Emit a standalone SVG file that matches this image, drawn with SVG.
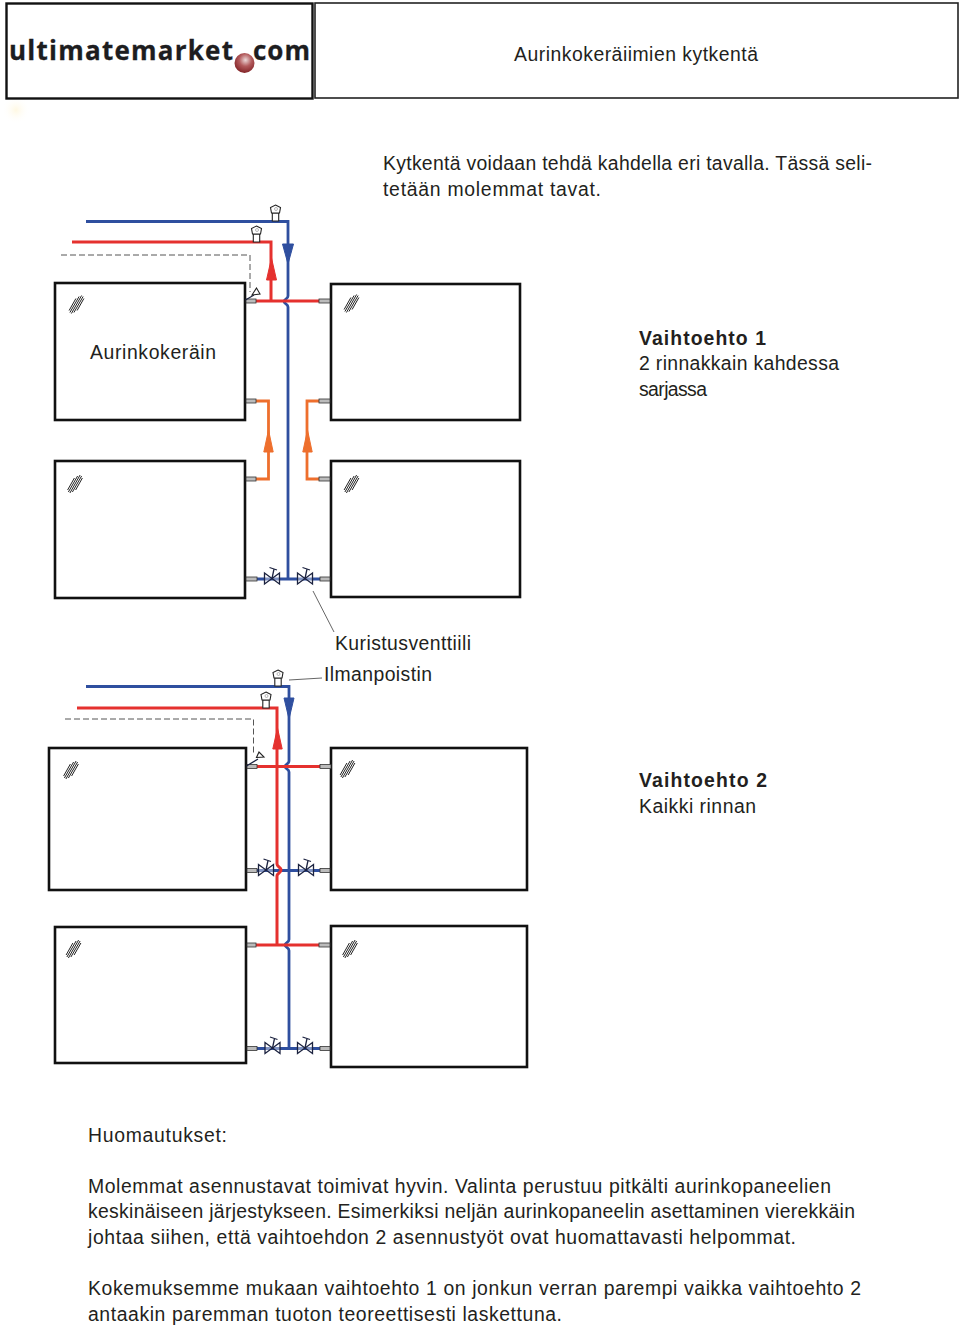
<svg xmlns="http://www.w3.org/2000/svg" xmlns:xlink="http://www.w3.org/1999/xlink" width="960" height="1327" viewBox="0 0 960 1327">
<style>
text{font-family:"Liberation Sans",Arial,sans-serif;font-size:19.4px;fill:#231f20}
.b{font-weight:bold}
.logo{font-family:"Open Sans","Liberation Sans",sans-serif;font-weight:bold;font-size:26px;fill:#1d1d1f;stroke:#1d1d1f;stroke-width:.3}
.panel{fill:#fff;stroke:#111;stroke-width:2.6}
.hdr{fill:#fff;stroke:#222;stroke-width:1.6}
.hdr2{fill:none;stroke:#111;stroke-width:2.400}
.blue{fill:none;stroke:#2f4f9f;stroke-width:2.8}
.red{fill:none;stroke:#e5312e;stroke-width:3}
.orange{fill:none;stroke:#ee6f2d;stroke-width:2.8}
.dash{fill:none;stroke:#555;stroke-width:1;stroke-dasharray:6 3}
.lead{fill:none;stroke:#666;stroke-width:1}
.stub{fill:#bbb;stroke:#333;stroke-width:.8}
.thin{fill:none;stroke:#1c2340;stroke-width:1.300}
.hatch{fill:none;stroke:#222;stroke-width:1}
.vent{fill:#fff;stroke:#222;stroke-width:1.100}
</style>
<defs>
<radialGradient id="ball" cx="0.55" cy="0.35" r="0.7"><stop offset="0" stop-color="#ecd8d8"/><stop offset="0.45" stop-color="#b25a5c"/><stop offset="1" stop-color="#7c1c20"/></radialGradient>
<radialGradient id="glow"><stop offset="0" stop-color="#fff8e2"/><stop offset="1" stop-color="#fff" stop-opacity="0"/></radialGradient>
<g id="hatch" class="hatch"><path d="M-7.400 6L-0.600 -6M-6.600 8L2.600 -8M-5.100 9L5.100 -9M-2.600 8L6.600 -8M0.600 6L7.400 -6"/></g>
<g id="vent"><path class="vent" d="M-3.200 8H3.200V16H-3.200Z"/><path class="vent" d="M0 0L5 2.500L4 8H-4L-5 2.500Z"/><circle cx="0.500" cy="4" r="1.500" fill="none" stroke="#888" stroke-width=".6"/></g>
<g id="valve" class="thin"><path d="M-7.500 -5.500L7.500 5.500V-5.500L-7.500 5.500Z" fill="#fff" fill-opacity=".4"/><path d="M0 0L2 -9.500M-2.500 -11L5 -8.500"/></g>
</defs>
<ellipse cx="16" cy="110" rx="14" ry="14" fill="url(#glow)"/>
<g id="header-logo">
<rect class="hdr2" x="6.500" y="3.500" width="306" height="95"/>
<text class="logo" x="9" y="59.500" textLength="224" lengthAdjust="spacing">ultimatemarket</text>
<text class="logo" x="253" y="59.500" textLength="57" lengthAdjust="spacing">com</text>
<circle cx="244.500" cy="63" r="10" fill="url(#ball)"/>
</g>
<g id="header-title">
<rect class="hdr" x="315" y="3" width="643" height="95"/>
<text x="514" y="61" textLength="244" lengthAdjust="spacing">Aurinkokeräiimien kytkentä</text>
</g>
<g id="intro">
<text x="383" y="170" textLength="489" lengthAdjust="spacing">Kytkentä voidaan tehdä kahdella eri tavalla. Tässä seli-</text>
<text x="383" y="195.500" textLength="218" lengthAdjust="spacing">tetään molemmat tavat.</text>
</g>
<g id="panel-1a"><rect class="panel" x="55" y="283" width="190" height="137"/><use xlink:href="#hatch" href="#hatch" x="76.500" y="304.500"/><text x="90" y="358.500" textLength="126" lengthAdjust="spacing">Aurinkokeräin</text></g>
<g id="panel-1b"><rect class="panel" x="331" y="284" width="189" height="136"/><use xlink:href="#hatch" href="#hatch" x="351.500" y="303.500"/></g>
<g id="panel-1c"><rect class="panel" x="55" y="461" width="190" height="137"/><use xlink:href="#hatch" href="#hatch" x="75" y="484"/></g>
<g id="panel-1d"><rect class="panel" x="331" y="461" width="189" height="136"/><use xlink:href="#hatch" href="#hatch" x="351.500" y="484"/></g>
<g id="panel-2a"><rect class="panel" x="49" y="748" width="197" height="142"/><use xlink:href="#hatch" href="#hatch" x="71" y="770"/></g>
<g id="panel-2b"><rect class="panel" x="331" y="748" width="196" height="142"/><use xlink:href="#hatch" href="#hatch" x="347.500" y="769"/></g>
<g id="panel-2c"><rect class="panel" x="55" y="927" width="191" height="136"/><use xlink:href="#hatch" href="#hatch" x="73.500" y="949"/></g>
<g id="panel-2d"><rect class="panel" x="331" y="926" width="196" height="141"/><use xlink:href="#hatch" href="#hatch" x="350" y="949"/></g>
<g id="connectors">
<path class="dash" d="M61 255H250V292"/>
<path class="blue" d="M86 221.500H288V296C288 299 284 299 284 301.500C284 304 288 304 288 307V579"/>
<path class="blue" d="M257 579H320"/>
<path class="red" d="M72 242H271V301"/>
<path class="red" d="M256 301H319"/>
<path class="orange" d="M256 401H268.500V479H256"/>
<path class="orange" d="M319 401H307V479H319"/>
<path d="M282.500 244H293.500L288 264Z" fill="#2f4f9f" stroke="#2f4f9f"/>
<path d="M266.500 280H276.500L271.500 258Z" fill="#e5312e" stroke="#e5312e"/>
<path d="M263.800 452H273.200L268.500 430Z" fill="#ee6f2d" stroke="#ee6f2d"/>
<path d="M302.800 452H312.200L307.500 430Z" fill="#ee6f2d" stroke="#ee6f2d"/>
<g class="stub"><rect x="246" y="299" width="10" height="4"/><rect x="319" y="299" width="11" height="4"/><rect x="246" y="399" width="10" height="4"/><rect x="319" y="399" width="11" height="4"/><rect x="246" y="477" width="10" height="4"/><rect x="319" y="477" width="11" height="4"/><rect x="246" y="577" width="11" height="4"/><rect x="320" y="577" width="10" height="4"/></g>
<path class="thin" d="M245.500 300L254 295"/><path class="vent" d="M252 295L260 294L256.500 288Z"/>
<use xlink:href="#vent" href="#vent" x="275.500" y="205"/>
<use xlink:href="#vent" href="#vent" x="256.500" y="226"/>
<use xlink:href="#valve" href="#valve" x="272" y="578.500"/>
<use xlink:href="#valve" href="#valve" x="305" y="578.500"/>
<path class="lead" d="M313 591L334 632"/>
<path class="lead" d="M289 680L322 678"/>
<path class="dash" d="M65 719H253.500V755"/>
<path class="blue" d="M86 686.500H289V761C289 764 285 764 285 766.500C285 769 289 769 289 772V939.500C289 942.500 285 942.500 285 945C285 947.500 289 947.500 289 950.500V1048"/>
<path class="blue" d="M257 870.500H320"/>
<path class="blue" d="M257 1048.500H320"/>
<path class="red" d="M77 708H277V864C277 867 281 867 281 870C281 873 277 873 277 876V945"/>
<path class="red" d="M257 766.500H320"/>
<path class="red" d="M256 945H319"/>
<path d="M284 698H294L289 719Z" fill="#2f4f9f" stroke="#2f4f9f"/>
<path d="M272.800 749H282.200L277.500 728Z" fill="#e5312e" stroke="#e5312e"/>
<g class="stub"><rect x="247" y="764.500" width="10" height="4"/><rect x="320" y="764.500" width="11" height="4"/><rect x="247" y="868.500" width="10" height="4"/><rect x="320" y="868.500" width="10" height="4"/><rect x="247" y="943" width="9" height="4"/><rect x="319" y="943" width="11" height="4"/><rect x="247" y="1046.500" width="10" height="4"/><rect x="320" y="1046.500" width="10" height="4"/></g>
<path class="thin" d="M246.500 766L258 759"/><path class="vent" d="M256.500 757.500L264 757L259 752Z"/>
<use xlink:href="#vent" href="#vent" x="278" y="670"/>
<use xlink:href="#vent" href="#vent" x="266" y="692"/>
<use xlink:href="#valve" href="#valve" x="266" y="870"/>
<use xlink:href="#valve" href="#valve" x="306" y="870"/>
<use xlink:href="#valve" href="#valve" x="272.500" y="1048"/>
<use xlink:href="#valve" href="#valve" x="305" y="1048"/>
</g>
<g id="label-option-1">
<text class="b" x="639" y="344.500" textLength="127" lengthAdjust="spacing">Vaihtoehto 1</text>
<text x="639" y="370" textLength="200" lengthAdjust="spacing">2 rinnakkain kahdessa</text>
<text x="639" y="396" textLength="68" lengthAdjust="spacing">sarjassa</text>
</g>
<g id="label-valve"><text x="335" y="650" textLength="136" lengthAdjust="spacing">Kuristusventtiili</text></g>
<g id="label-vent"><text x="324" y="681" textLength="108" lengthAdjust="spacing">Ilmanpoistin</text></g>
<g id="label-option-2">
<text class="b" x="639" y="787" textLength="128" lengthAdjust="spacing">Vaihtoehto 2</text>
<text x="639" y="813" textLength="117" lengthAdjust="spacing">Kaikki rinnan</text>
</g>
<g id="notes">
<text x="88" y="1141.500" textLength="139" lengthAdjust="spacing">Huomautukset:</text>
<text x="88" y="1193" textLength="743" lengthAdjust="spacing">Molemmat asennustavat toimivat hyvin. Valinta perustuu pitkälti aurinkopaneelien</text>
<text x="88" y="1218" textLength="767" lengthAdjust="spacing">keskinäiseen järjestykseen. Esimerkiksi neljän aurinkopaneelin asettaminen vierekkäin</text>
<text x="88" y="1244" textLength="708" lengthAdjust="spacing">johtaa siihen, että vaihtoehdon 2 asennustyöt ovat huomattavasti helpommat.</text>
<text x="88" y="1295" textLength="773" lengthAdjust="spacing">Kokemuksemme mukaan vaihtoehto 1 on jonkun verran parempi vaikka vaihtoehto 2</text>
<text x="88" y="1320.500" textLength="474" lengthAdjust="spacing">antaakin paremman tuoton teoreettisesti laskettuna.</text>
</g>
</svg>
